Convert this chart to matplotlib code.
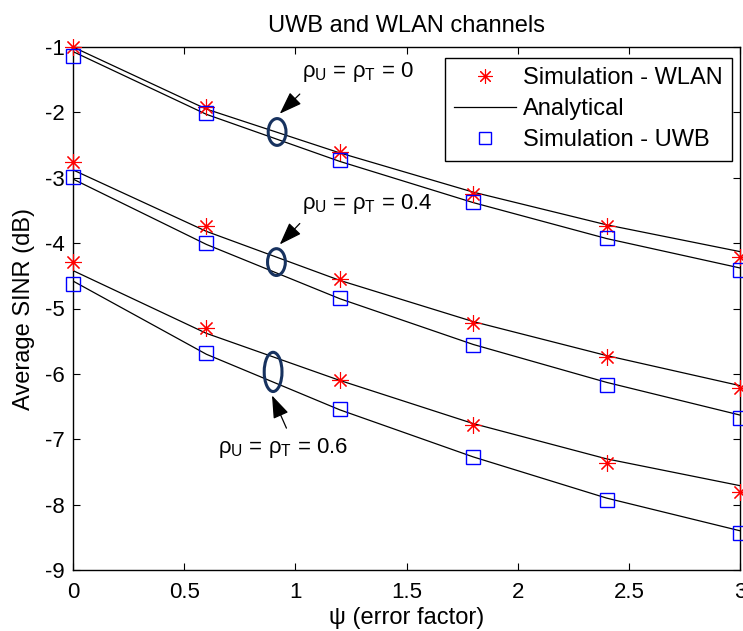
import numpy as np
import matplotlib
matplotlib.use("Agg")
import matplotlib.pyplot as plt
from matplotlib.patches import Ellipse

plt.rcParams['font.family'] = ['Liberation Sans', 'DejaVu Sans']
plt.rcParams['mathtext.default'] = 'regular'

psi = [0, 0.6, 1.2, 1.8, 2.4, 3.0]

# simulation - WLAN (rho = 0, 0.4, 0.6)
wlan_0 = [-1.00, -1.92, -2.61, -3.25, -3.74, -4.21]
wlan_04 = [-2.76, -3.74, -4.55, -5.22, -5.74, -6.21]
wlan_06 = [-4.29, -5.30, -6.09, -6.78, -7.36, -7.80]

# simulation - UWB
uwb_0 = [-1.14, -2.01, -2.73, -3.37, -3.92, -4.41]
uwb_04 = [-2.99, -4.00, -4.84, -5.56, -6.17, -6.67]
uwb_06 = [-4.62, -5.68, -6.53, -7.27, -7.93, -8.43]

# analytical curves
ana_wlan_0 = [-1.00, -1.95, -2.62, -3.22, -3.72, -4.13]
ana_uwb_0 = [-1.07, -2.03, -2.75, -3.38, -3.93, -4.38]
ana_wlan_04 = [-2.88, -3.82, -4.57, -5.20, -5.72, -6.18]
ana_uwb_04 = [-3.02, -4.02, -4.85, -5.55, -6.13, -6.63]
ana_wlan_06 = [-4.42, -5.38, -6.10, -6.76, -7.30, -7.71]
ana_uwb_06 = [-4.58, -5.70, -6.55, -7.27, -7.90, -8.40]

labels = ['ρ$_{U}$ = ρ$_{T}$ = 0', 'ρ$_{U}$ = ρ$_{T}$ = 0.4',
          'ρ$_{U}$ = ρ$_{T}$ = 0.6']

fig = plt.figure(figsize=(7.43, 6.31), dpi=100)
ax = fig.add_axes([73/743, 1 - 570/631, 667/743, 523/631])

ana = [ana_wlan_0, ana_uwb_0, ana_wlan_04, ana_uwb_04, ana_wlan_06, ana_uwb_06]
for i, a in enumerate(ana):
    ax.plot(psi, a, color='black', lw=0.9,
            label='Analytical' if i == 0 else None, zorder=2)

star = (8, 2, 0)
for i, w in enumerate([wlan_0, wlan_04, wlan_06]):
    ax.plot(psi, w, linestyle='none', marker=star, ms=12, mew=0.8,
            color='red', label='Simulation - WLAN' if i == 0 else None,
            zorder=3, clip_on=False)
for i, u in enumerate([uwb_0, uwb_04, uwb_06]):
    ax.plot(psi, u, linestyle='none', marker='s', ms=10, mew=1.0,
            mfc='none', mec='blue', label='Simulation - UWB' if i == 0 else None,
            zorder=3, clip_on=False)

# ellipses and arrows
navy = '#17325f'
ax.add_patch(Ellipse((0.918, -2.30), 0.08, 0.41, fill=False, ec=navy, lw=2.2, zorder=4))
ax.add_patch(Ellipse((0.915, -4.29), 0.08, 0.41, fill=False, ec=navy, lw=2.2, zorder=4))
ax.add_patch(Ellipse((0.900, -5.97), 0.08, 0.60, fill=False, ec=navy, lw=2.2, zorder=4))

arr = dict(arrowstyle='-|>,head_length=1.4,head_width=0.5', color='black', lw=0.9,
           shrinkA=0, shrinkB=0)
ax.annotate('', xy=(0.93, -2.02), xytext=(1.02, -1.72), arrowprops=arr)
ax.annotate('', xy=(0.93, -4.02), xytext=(1.02, -3.70), arrowprops=arr)
ax.annotate('', xy=(0.895, -6.33), xytext=(0.96, -6.83), arrowprops=arr)

ax.text(1.03, -1.38, labels[0], fontsize=16, va='center', ha='left')
ax.text(1.03, -3.40, labels[1], fontsize=16, va='center', ha='left')
ax.text(0.65, -7.13, labels[2], fontsize=16, va='center', ha='left')

ax.set_xlim(0, 3)
ax.set_ylim(-9, -1)
ax.set_xticks([0, 0.5, 1, 1.5, 2, 2.5, 3])
ax.set_xticklabels(['0', '0.5', '1', '1.5', '2', '2.5', '3'])
ax.set_yticks(range(-9, 0))
ax.set_yticklabels([str(v) for v in range(-9, 0)])
ax.tick_params(direction='in', top=True, right=True, labelsize=16, length=5)
ax.tick_params(axis='x', pad=9)
ax.tick_params(axis='y', pad=6)
for s in ax.spines.values():
    s.set_linewidth(1.0)

ax.set_title('UWB and WLAN channels', fontsize=17, pad=11)
ax.set_xlabel('ψ (error factor)', fontsize=17)
ax.set_ylabel('Average SINR (dB)', fontsize=17)
ax.xaxis.set_label_coords(0.5, -0.071)
ax.yaxis.set_label_coords(-0.057, 0.5)

h, l = ax.get_legend_handles_labels()
order = [l.index('Simulation - WLAN'), l.index('Analytical'), l.index('Simulation - UWB')]
leg = ax.legend([h[i] for i in order], [l[i] for i in order], loc='upper right',
                fontsize=17, fancybox=False, edgecolor='black', framealpha=1,
                borderpad=0.4, handlelength=2.6, handletextpad=0.3,
                labelspacing=0.38, borderaxespad=0, markerscale=0.85,
                bbox_to_anchor=(0.988, 0.979))
leg.get_frame().set_linewidth(1.0)

fig.savefig('out.png', dpi=100)
